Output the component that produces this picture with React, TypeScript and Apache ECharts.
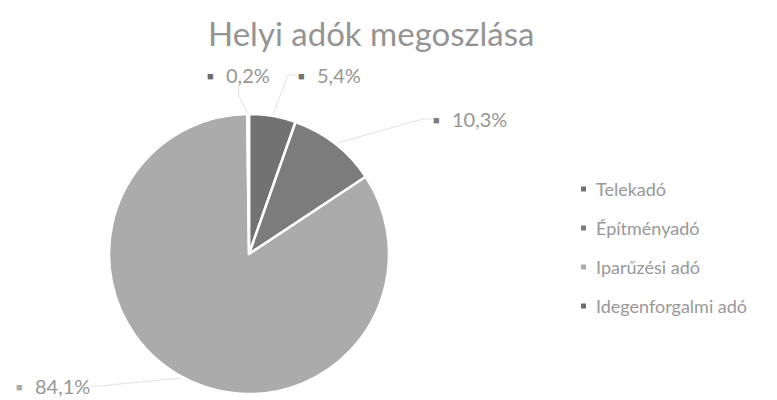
import React, { useEffect, useRef } from "react";
import * as echarts from "echarts";

const categories = ["Telekadó", "Építményadó", "Iparűzési adó", "Idegenforgalmi adó"];
const values = [5.4, 10.3, 84.1, 0.2];
const colors = ["#727272", "#7c7c7c", "#ababab", "#6c6c6c"];
const titleText = "Helyi adók megoszlása";

// label anchor positions (left edge, vertical middle) per slice, in pixels
const labelSpots: [number, number][] = [
  [298, 75],
  [433, 119],
  [16, 386],
  [207, 75],
];

export default function App() {
  const ref = useRef<HTMLDivElement>(null);
  useEffect(() => {
    if (!ref.current) return;
    const chart = echarts.init(ref.current, null, { renderer: "svg" });
    const fmt = (v: number) => v.toFixed(1).replace(".", ",") + "%";
    chart.setOption({
      animation: false,
      backgroundColor: "#ffffff",
      textStyle: { fontFamily: "Lato" },
      title: {
        text: titleText,
        left: 203,
        top: 11,
        textStyle: { fontSize: 33, fontWeight: "normal", color: "#949494", fontFamily: "Lato" },
      },
      legend: {
        orient: "vertical",
        left: 574,
        top: 175,
        itemGap: 21,
        itemWidth: 7,
        itemHeight: 7,
        icon: "rect",
        data: categories,
        textStyle: { fontSize: 18, color: "#989898", fontFamily: "Lato", padding: [0, 0, 0, 4] },
      },
      series: [
        {
          type: "pie",
          center: [249, 254],
          radius: 140,
          startAngle: 90,
          clockwise: true,
          avoidLabelOverlap: false,
          itemStyle: { borderColor: "#ffffff", borderWidth: 2.5 },
          label: {
            show: true,
            position: "outside",
            fontSize: 20,
            color: "#969696",
            fontFamily: "Lato",
          },
          labelLine: { show: true, length: 15, length2: 10, lineStyle: { color: "#e2e2e2", width: 1 } },
          labelLayout: (params: any) => {
            const s = labelSpots[params.dataIndex];
            return { x: s[0], y: s[1], align: "left", verticalAlign: "middle" };
          },
          data: categories.map((name, i) => ({
            name,
            value: values[i],
            itemStyle: { color: colors[i] },
            label: {
              formatter: "{m|■}" + fmt(values[i]),
              rich: { m: { color: colors[i], fontSize: 11, width: 19 } },
            },
          })),
        },
      ],
    });
    return () => chart.dispose();
  }, []);
  return <div ref={ref} style={{ position: "fixed", left: 0, top: 0, width: 777, height: 400 }} />;
}
